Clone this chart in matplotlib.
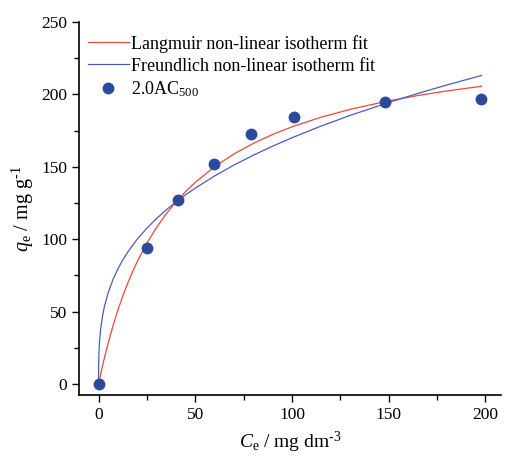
import matplotlib
matplotlib.use('Agg')
import matplotlib.pyplot as plt
from matplotlib.ticker import MultipleLocator

# measured points
ce = [0, 25, 41, 59.5, 79, 101, 148, 197.5]
qe = [0, 94, 127, 152, 172.5, 184.5, 195, 197]

# fitted curves
fit_x = [0, 0.01, 0.05, 0.1, 0.25, 0.5, 1, 2, 3, 5, 7.5, 10, 12.5, 15, 17.5, 20,
         25, 30, 35, 40, 45, 50, 60, 70, 80, 90, 100, 115, 130, 150, 165, 180, 198]
langmuir_q = [0, 0.06, 0.32, 0.64, 1.60, 3.19, 6.29, 12.26, 17.94, 28.51, 40.42,
              51.08, 60.69, 69.39, 77.30, 84.54, 97.28, 108.15, 117.52, 125.70,
              132.89, 139.26, 150.05, 158.85, 166.15, 172.31, 177.58, 184.19,
              189.62, 195.52, 199.17, 202.33, 205.58]
freundlich_q = [0, 8.14, 13.84, 17.40, 23.54, 29.60, 37.20, 46.76, 53.45, 63.27,
                72.33, 79.53, 85.61, 90.92, 95.66, 99.97, 107.61, 114.29, 120.25,
                125.67, 130.65, 135.27, 143.66, 151.17, 157.98, 164.23, 170.04,
                178.07, 185.42, 194.38, 200.59, 206.44, 213.03]

plt.rcParams['font.family'] = ['Liberation Serif', 'DejaVu Serif']
plt.rcParams['mathtext.fontset'] = 'custom'
plt.rcParams['mathtext.rm'] = 'Liberation Serif'
plt.rcParams['mathtext.it'] = 'Liberation Serif:italic'

fig = plt.figure(figsize=(5.08, 4.57), dpi=100)
ax = fig.add_axes([0.156, 0.136, 0.83, 0.816])

ax.plot(fit_x, langmuir_q, color='#f0463c', lw=0.9, label='Langmuir non-linear isotherm fit')
ax.plot(fit_x, freundlich_q, color='#4a5bbf', lw=0.9, label='Freundlich non-linear isotherm fit')
ax.plot(ce, qe, 'o', color='#2b4a9c', ms=7.5, label='2.0AC$_{500}$')

ax.set_xlim(-10, 208)
ax.set_ylim(-7.5, 250)
ax.xaxis.set_major_locator(MultipleLocator(50))
ax.xaxis.set_minor_locator(MultipleLocator(25))
ax.yaxis.set_major_locator(MultipleLocator(50))
ax.yaxis.set_minor_locator(MultipleLocator(25))
ax.tick_params(which='major', direction='out', length=5, width=1, labelsize=12.5)
ax.tick_params(which='minor', direction='out', length=3.5, width=1)
for s in ['top', 'right']:
    ax.spines[s].set_visible(False)
for s in ['left', 'bottom']:
    ax.spines[s].set_linewidth(1.2)

ax.set_xlabel('$C_\\mathrm{e}$ / mg dm$^{\\text{-}3}$', fontsize=14, labelpad=5)
ax.set_ylabel('$q_\\mathrm{e}$ / mg g$^{\\text{-}1}$', fontsize=14.5, labelpad=4)

ax.legend(loc='upper left', bbox_to_anchor=(-0.005, 0.995), frameon=False, fontsize=13,
          handlelength=2.25, handletextpad=0.15, labelspacing=0.28, borderaxespad=0.2)

fig.savefig('out.png', dpi=100)
